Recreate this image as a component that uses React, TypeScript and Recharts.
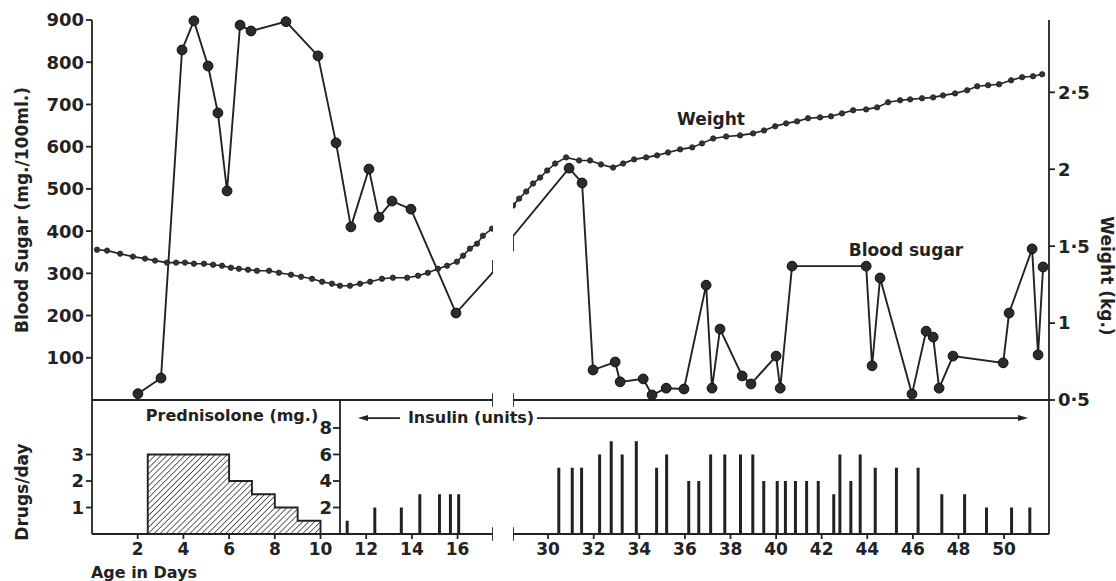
import React from 'react';
import { ComposedChart, Line, Bar, Area, XAxis, YAxis, ReferenceLine } from 'recharts';

const FONT = '"DejaVu Sans", "Noto Sans", sans-serif';
const INK = '#222';

// x ranges (days) of the two broken segments
const leftDayRange: [number, number] = [0, 17.55];
const rightDayRange: [number, number] = [28.46, 51.97];
const insulinAxisDay = 10.853;

// tick labels
const bsTicks = [100, 200, 300, 400, 500, 600, 700, 800, 900];
const weightTicks = [0.5, 1, 1.5, 2, 2.5];
const predTicks = [1, 2, 3];
const insulinTicks = [2, 4, 6, 8];
const dayTicksPred = [2, 4, 6, 8, 10];
const dayTicksInsLeft = [12, 14, 16];
const dayTicksRight = [30, 32, 34, 36, 38, 40, 42, 44, 46, 48, 50];

// Blood sugar (mg./100ml.)
const bsLeftDays = [2.01, 3.02, 3.94, 4.46, 5.08, 5.51, 5.91, 6.48, 6.96, 8.49, 9.89, 10.68, 11.33, 12.12, 12.56, 13.13, 13.96, 15.93, 17.55];
const bsLeftValues = [15, 52, 829, 898, 791, 680, 495, 888, 874, 896, 815, 609, 410, 547, 433, 471, 452, 206, 303];
const bsRightDays = [28.46, 30.92, 31.49, 31.97, 32.94, 33.16, 34.17, 34.56, 35.18, 35.96, 36.93, 37.19, 37.54, 38.51, 38.9, 40.0, 40.18, 40.7, 43.95, 44.21, 44.56, 45.96, 46.58, 46.89, 47.15, 47.76, 49.96, 50.22, 51.23, 51.49, 51.71];
const bsRightValues = [388, 549, 514, 71, 90, 43, 50, 12, 28, 26, 272, 28, 168, 57, 38, 104, 28, 317, 317, 81, 289, 14, 163, 149, 28, 104, 88, 206, 358, 107, 315];

// Weight (kg.)
const wLeftDays = [0.22, 0.66, 1.23, 1.79, 2.32, 2.76, 3.28, 3.68, 4.07, 4.46, 4.9, 5.3, 5.69, 6.08, 6.43, 6.83, 7.22, 7.75, 8.18, 8.71, 9.15, 9.63, 10.07, 10.5, 10.85, 11.29, 11.73, 12.17, 12.69, 13.17, 13.79, 14.27, 14.7, 15.14, 15.54, 15.97, 16.24, 16.54, 16.85, 17.11, 17.51];
const wLeftValues = [1.477, 1.471, 1.451, 1.432, 1.419, 1.406, 1.393, 1.393, 1.393, 1.386, 1.386, 1.379, 1.373, 1.36, 1.353, 1.347, 1.34, 1.34, 1.327, 1.314, 1.301, 1.288, 1.269, 1.256, 1.243, 1.243, 1.256, 1.269, 1.288, 1.295, 1.295, 1.308, 1.327, 1.353, 1.373, 1.399, 1.438, 1.484, 1.516, 1.568, 1.614];
const wRightDays = [28.46, 28.73, 29.04, 29.34, 29.65, 29.96, 30.31, 30.79, 31.36, 31.84, 32.32, 32.85, 33.29, 33.77, 34.3, 34.78, 35.26, 35.79, 36.32, 36.75, 37.24, 37.81, 38.42, 38.99, 39.47, 39.96, 40.44, 40.92, 41.4, 41.93, 42.41, 42.89, 43.38, 43.95, 44.43, 44.91, 45.44, 45.88, 46.4, 46.89, 47.32, 47.85, 48.38, 48.82, 49.3, 49.78, 50.31, 50.79, 51.27, 51.67];
const wRightValues = [1.764, 1.809, 1.855, 1.907, 1.946, 1.992, 2.037, 2.077, 2.057, 2.057, 2.031, 2.011, 2.037, 2.064, 2.077, 2.09, 2.109, 2.129, 2.142, 2.168, 2.2, 2.213, 2.22, 2.233, 2.252, 2.279, 2.298, 2.311, 2.331, 2.337, 2.344, 2.363, 2.383, 2.389, 2.402, 2.435, 2.448, 2.454, 2.461, 2.467, 2.48, 2.493, 2.513, 2.539, 2.546, 2.552, 2.578, 2.598, 2.604, 2.617];

// Prednisolone (mg./day), step outline
const predDays = [2.44, 2.44, 6, 7, 8, 9, 10];
const predDoses = [0, 3, 2, 1.5, 1, 0.5, 0];

// Insulin (units)
const insLeftDays = [11.15, 12.36, 13.52, 14.33, 15.19, 15.67, 16.03];
const insLeftUnits = [1, 2, 2, 3, 3, 3, 3];
const insRightDays = [30.45, 31.04, 31.45, 32.24, 32.75, 33.23, 33.85, 34.74, 35.18, 36.15, 36.59, 37.11, 37.73, 38.42, 38.96, 39.44, 40.03, 40.39, 40.83, 41.32, 41.83, 42.51, 42.78, 43.26, 43.67, 44.33, 45.26, 46.21, 47.25, 48.25, 49.21, 50.31, 51.11];
const insRightUnits = [5, 5, 5, 6, 7, 6, 7, 5, 6, 4, 4, 6, 6, 6, 6, 4, 4, 4, 4, 4, 4, 3, 6, 4, 6, 5, 5, 5, 3, 3, 2, 2, 2];

const zip = (days: number[], vals: number[], key: string) => days.map((d, i) => ({ day: d, [key]: vals[i] }));

const bsLeft = zip(bsLeftDays, bsLeftValues, 'bs').map((p, i, a) => (i === a.length - 1 ? { ...p, brk: 'up' } : p));
const bsRight = zip(bsRightDays, bsRightValues, 'bs').map((p, i) => (i === 0 ? { ...p, brk: 'down' } : p));
const wLeft = zip(wLeftDays, wLeftValues, 'w');
const wRight = zip(wRightDays, wRightValues, 'w');
const pred = zip(predDays, predDoses, 'mg');
const insLeft = zip(insLeftDays, insLeftUnits, 'u');
const insRight = zip(insRightDays, insRightUnits, 'u');

const tickStyle = { fill: INK, fontSize: 18, fontFamily: FONT, fontWeight: 700 };
const xTickStyle = { fill: INK, fontSize: 17, fontFamily: FONT, fontWeight: 700 };
const axisStroke = { stroke: INK, strokeWidth: 1.8 };

const bsDot = (p: any) => {
  const { cx, cy, payload, index } = p;
  if (cx == null || cy == null) return <g key={`d${index}`} />;
  if (payload && payload.brk === 'up') {
    return <line key={`d${index}`} x1={cx} y1={cy} x2={cx} y2={cy - 12} stroke={INK} strokeWidth={1.8} />;
  }
  if (payload && payload.brk === 'down') {
    return <line key={`d${index}`} x1={cx} y1={cy} x2={cx} y2={cy + 15} stroke={INK} strokeWidth={1.8} />;
  }
  return <circle key={`d${index}`} cx={cx} cy={cy} r={4.9} fill="#2b2b2b" stroke="#111" strokeWidth={1} />;
};

const arrowShape = (props: any) => {
  const { x1, y1, x2, y2 } = props;
  const ang = Math.atan2(y2 - y1, x2 - x1);
  const L = 10;
  const W = 3;
  const ax = x2 - L * Math.cos(ang);
  const ay = y2 - L * Math.sin(ang);
  const px = -Math.sin(ang) * W;
  const py = Math.cos(ang) * W;
  return (
    <g>
      <line x1={x1} y1={y1} x2={ax} y2={ay} stroke={INK} strokeWidth={1.7} />
      <polygon points={`${x2},${y2} ${ax + px},${ay + py} ${ax - px},${ay - py}`} fill={INK} />
    </g>
  );
};

const Txt = ({ x, y, rot = 0, size = 17, children }: any) => (
  <div
    style={{
      position: 'absolute',
      left: x,
      top: y,
      transform: `translate(-50%, -50%) rotate(${rot}deg)`,
      whiteSpace: 'nowrap',
      fontFamily: FONT,
      fontSize: size,
      fontWeight: 700,
      lineHeight: 1,
      color: INK,
    }}
  >
    {children}
  </div>
);

const fmtW = (v: number) => String(v).replace('.', '·');

export default function App() {
  return (
    <div style={{ position: 'fixed', left: 0, top: 0, width: 1116, height: 581, background: '#fff', overflow: 'hidden' }}>
      <div style={{ position: 'absolute', left: 8, top: 8, width: 1108, height: 573 }}>
        {/* top left */}
        <div style={{ position: 'absolute', left: 0, top: 0 }}>
          <ComposedChart width={485} height={420} margin={{ top: 12, right: 0, bottom: 0, left: 0 }}>
            <XAxis type="number" dataKey="day" domain={leftDayRange} tick={false} tickLine={false} height={28} axisLine={axisStroke} />
            <YAxis yAxisId="bs" type="number" domain={[0, 900]} ticks={bsTicks} interval={0} width={84} tick={tickStyle} tickSize={6} tickMargin={2} axisLine={axisStroke} tickLine={axisStroke} />
            <YAxis yAxisId="w" type="number" orientation="right" hide domain={[0.5, 2.97]} />
            <ReferenceLine yAxisId="bs" segment={[{ x: 17.55, y: -16 }, { x: 17.55, y: 16 }]} ifOverflow="visible" stroke={INK} strokeWidth={1.8} />
            <Line yAxisId="w" data={wLeft} dataKey="w" stroke={INK} strokeWidth={1.6} dot={{ r: 2.7, fill: '#333', stroke: '#222', strokeWidth: 0.8 }} activeDot={false} isAnimationActive={false} />
            <Line yAxisId="bs" data={bsLeft} dataKey="bs" stroke={INK} strokeWidth={1.9} dot={bsDot} activeDot={false} isAnimationActive={false} />
          </ComposedChart>
        </div>

        {/* top right */}
        <div style={{ position: 'absolute', left: 505, top: 0 }}>
          <ComposedChart width={603} height={420} margin={{ top: 12, right: 0, bottom: 0, left: 0 }}>
            <XAxis type="number" dataKey="day" domain={rightDayRange} tick={false} tickLine={false} height={28} axisLine={axisStroke} />
            <YAxis yAxisId="bs" type="number" hide domain={[0, 900]} />
            <YAxis yAxisId="w" type="number" orientation="right" domain={[0.5, 2.97]} ticks={weightTicks} interval={0} tickFormatter={fmtW} width={67} tick={tickStyle} tickSize={6} tickMargin={3} axisLine={axisStroke} tickLine={axisStroke} />
            <ReferenceLine yAxisId="bs" segment={[{ x: 28.46, y: -16 }, { x: 28.46, y: 16 }]} ifOverflow="visible" stroke={INK} strokeWidth={1.8} />
            <Line yAxisId="w" data={wRight} dataKey="w" stroke={INK} strokeWidth={1.6} dot={{ r: 2.7, fill: '#333', stroke: '#222', strokeWidth: 0.8 }} activeDot={false} isAnimationActive={false} />
            <Line yAxisId="bs" data={bsRight} dataKey="bs" stroke={INK} strokeWidth={1.9} dot={bsDot} activeDot={false} isAnimationActive={false} />
          </ComposedChart>
        </div>

        {/* bottom: prednisolone */}
        <div style={{ position: 'absolute', left: 0, top: 392 }}>
          <ComposedChart width={332} height={174} data={pred} margin={{ top: 0, right: 0, bottom: 0, left: 0 }}>
            <defs>
              <pattern id="hatch" width="4.2" height="4.2" patternUnits="userSpaceOnUse" patternTransform="rotate(45)">
                <line x1="0" y1="0" x2="0" y2="4.2" stroke={INK} strokeWidth="1.4" />
              </pattern>
            </defs>
            <XAxis type="number" dataKey="day" domain={[0, insulinAxisDay]} ticks={dayTicksPred} interval={0} height={40} tick={xTickStyle} tickSize={5} tickMargin={4} axisLine={axisStroke} tickLine={axisStroke} />
            <YAxis type="number" domain={[0, 5.06]} ticks={predTicks} interval={0} width={84} tick={tickStyle} tickSize={6} tickMargin={2} axisLine={axisStroke} tickLine={axisStroke} />
            <Area type="stepAfter" dataKey="mg" stroke={INK} strokeWidth={1.9} fill="url(#hatch)" fillOpacity={1} dot={false} activeDot={false} isAnimationActive={false} />
          </ComposedChart>
        </div>

        {/* bottom: insulin, left segment */}
        <div style={{ position: 'absolute', left: 302, top: 392 }}>
          <ComposedChart width={183} height={174} data={insLeft} margin={{ top: 0, right: 0, bottom: 0, left: 0 }}>
            <XAxis type="number" dataKey="day" domain={[insulinAxisDay, 17.55]} ticks={dayTicksInsLeft} interval={0} height={40} tick={xTickStyle} tickSize={5} tickMargin={4} axisLine={axisStroke} tickLine={axisStroke} />
            <YAxis type="number" domain={[0, 10.11]} ticks={insulinTicks} interval={0} width={30} tick={tickStyle} tickSize={7} tickMargin={1} axisLine={axisStroke} tickLine={axisStroke} />
            <ReferenceLine segment={[{ x: 17.55, y: -0.5 }, { x: 17.55, y: 0.5 }]} ifOverflow="visible" stroke={INK} strokeWidth={1.8} />
            <ReferenceLine segment={[{ x: 13.48, y: 8.75 }, { x: 11.64, y: 8.75 }]} ifOverflow="visible" stroke={INK} shape={arrowShape} />
            <Bar dataKey="u" barSize={3} fill={INK} isAnimationActive={false} />
          </ComposedChart>
        </div>

        {/* bottom: insulin, right segment */}
        <div style={{ position: 'absolute', left: 505, top: 392 }}>
          <ComposedChart width={603} height={174} data={insRight} margin={{ top: 0, right: 0, bottom: 0, left: 0 }}>
            <XAxis type="number" dataKey="day" domain={rightDayRange} ticks={dayTicksRight} interval={0} height={40} tick={xTickStyle} tickSize={5} tickMargin={4} axisLine={axisStroke} tickLine={axisStroke} />
            <YAxis type="number" orientation="right" domain={[0, 10.11]} width={67} tick={false} tickLine={false} axisLine={axisStroke} />
            <ReferenceLine segment={[{ x: 28.46, y: -0.5 }, { x: 28.46, y: 0.5 }]} ifOverflow="visible" stroke={INK} strokeWidth={1.8} />
            <ReferenceLine segment={[{ x: 29.51, y: 8.75 }, { x: 51.05, y: 8.75 }]} ifOverflow="visible" stroke={INK} shape={arrowShape} />
            <Bar dataKey="u" barSize={3} fill={INK} isAnimationActive={false} />
          </ComposedChart>
        </div>

        {/* text */}
        <Txt x={14} y={202} rot={-90}>Blood Sugar (mg./100ml.)</Txt>
        <Txt x={1098} y={268} rot={90}>Weight (kg.)</Txt>
        <Txt x={14} y={484} rot={-90}>Drugs/day</Txt>
        <Txt x={136} y={565} size={16}>Age in Days</Txt>
        <Txt x={224} y={408} size={16}>Prednisolone (mg.)</Txt>
        <Txt x={463} y={410} size={16}>Insulin (units)</Txt>
        <Txt x={703} y={111}>Weight</Txt>
        <Txt x={898} y={242}>Blood sugar</Txt>
      </div>
    </div>
  );
}
